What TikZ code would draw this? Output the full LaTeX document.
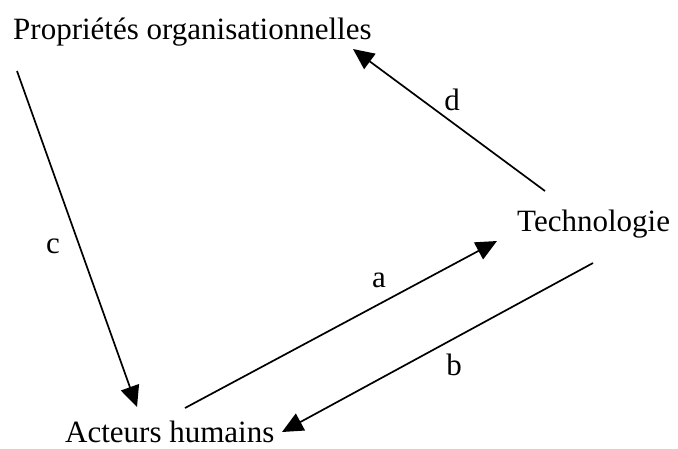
\documentclass[tikz,border=0pt]{standalone}
\usepackage{fontspec}
\setmainfont{Liberation Serif}
\usetikzlibrary{arrows.meta}

\begin{document}
\begin{tikzpicture}[
  x=1pt, y=-1pt,
  font=\fontsize{31}{37}\selectfont,
  >={Triangle[length=21pt,width=19pt]},
  concept/.style={inner sep=0pt, anchor=base west},
  labeltext/.style={inner sep=0pt, anchor=base},
  arrow/.style={->, line width=1.7pt}
]
  \useasboundingbox (0,0) rectangle (678,448);

  % Concepts.
  \node[concept] (org) at (13,39) {Propriétés organisationnelles};
  \node[concept] (tech) at (517,231) {Technologie};
  \node[concept] (acteurs) at (65,442) {Acteurs humains};

  % Extrémités des flèches.
  \coordinate (orgout) at (17,71);
  \coordinate (orgin) at (353,49);
  \coordinate (techout) at (545,191);
  \coordinate (techin) at (497,241);
  \coordinate (techback) at (593,263);
  \coordinate (actin) at (137,407);
  \coordinate (actout) at (185,408);
  \coordinate (actback) at (282,432);

  % Relations.
  \draw[arrow] (orgout) -- (actin);
  \draw[arrow] (actout) -- (techin);
  \draw[arrow] (techback) -- (actback);
  \draw[arrow] (techout) -- (orgin);

  \node[labeltext] (lc) at (53,253) {c};
  \node[labeltext] (la) at (379,287) {a};
  \node[labeltext] (lb) at (454,375) {b};
  \node[labeltext] (ld) at (452,110) {d};
\end{tikzpicture}
\end{document}
